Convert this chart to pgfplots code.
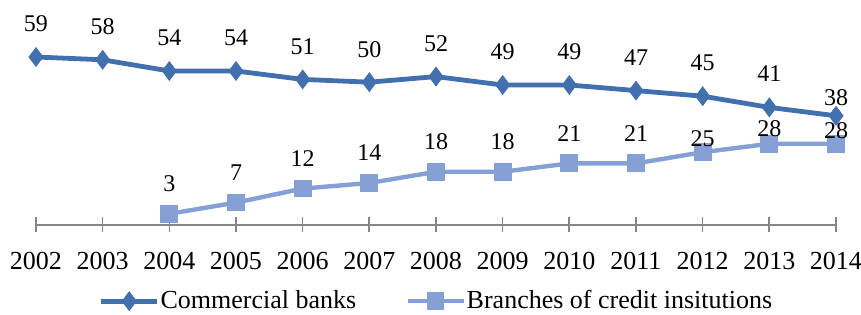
\documentclass[border=0pt]{standalone}
\usepackage{pgfplots}
\usepackage{pgfplotstable}
\usepackage{fontspec}
\setmainfont{Liberation Serif}
\pgfplotsset{compat=1.18}
\definecolor{darkblue}{RGB}{66,112,174}
\definecolor{lightblue}{RGB}{132,160,213}
\definecolor{axisgray}{RGB}{134,134,134}
\pgfplotstableread{
year val off
2002 59 16.5
2003 58 16.5
2004 54 16.5
2005 54 16.5
2006 51 16.5
2007 50 16.5
2008 52 16.5
2009 49 16.5
2010 49 16.5
2011 47 16.5
2012 45 16.5
2013 41 17
2014 38 9
}\commercial
\pgfplotstableread{
year val off
2004 3 15
2005 7 15
2006 12 15
2007 14 15
2008 18 15
2009 18 15
2010 21 15
2011 21 15
2012 25 7
2013 28 7.5
2014 28 6.5
}\branches
\begin{document}
\begin{tikzpicture}
\begin{axis}[
  scale only axis,
  width=400pt, height=92.4pt,
  xmin=2002, xmax=2014, ymin=-1, ymax=65,
  axis lines*=left,
  axis y line=none,
  x axis line style={draw=axisgray, line width=0.8pt, -},
  xtick={2002,...,2014},
  xticklabel style={anchor=center, yshift=-14pt, font=\fontsize{13}{15}\selectfont},
  tick align=center,
  major tick length=7.5pt,
  tick style={draw=axisgray, line width=0.8pt},
  /pgf/number format/assume math mode=true,
  /pgf/number format/1000 sep={},
  clip=false,
  legend columns=2,
  legend style={at={(0.5,-0.412)}, anchor=center, draw=none, fill=none,
    font=\fontsize{13}{15}\selectfont,
    nodes={inner sep=0.5pt},
    /tikz/every even column/.append style={column sep=24pt}},
  legend image code/.code={\draw[mark repeat=2,mark phase=2] plot coordinates {(0pt,0pt) (14pt,0pt) (28pt,0pt)};},
  nodes near coords,
  every node near coord/.append style={font=\fontsize{12}{14}\selectfont, anchor=center, text=black},
]
\addplot[color=darkblue, line width=2.4pt, mark=diamond*, mark size=4.6pt,
  mark options={fill=darkblue, draw=darkblue, line width=0.5pt},
  visualization depends on={\thisrow{off}\as\myoff},
  nodes near coords style={yshift=\myoff pt}]
  table[x=year, y=val] {\commercial};
\addlegendentry{Commercial banks}
\addplot[color=lightblue, line width=2.2pt, mark=square*, mark size=4.2pt,
  mark options={fill=lightblue, draw=lightblue, line width=0.5pt},
  visualization depends on={\thisrow{off}\as\myoff},
  nodes near coords style={yshift=\myoff pt}]
  table[x=year, y=val] {\branches};
\addlegendentry{Branches of credit insitutions}
\end{axis}
\pgfresetboundingbox
\path (-18pt,-45pt) rectangle (412.5pt,112.5pt);
\end{tikzpicture}
\end{document}
